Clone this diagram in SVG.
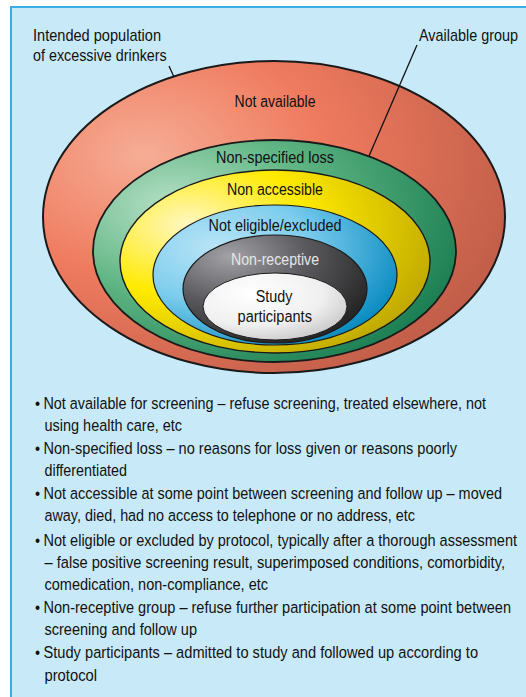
<svg xmlns="http://www.w3.org/2000/svg" width="526" height="697" viewBox="0 0 526 697">
<style>
  .t { font-family: "Liberation Sans", Arial, sans-serif; font-size: 16.5px; fill: #111; }
  .s { font-size: 16px; }
  .c { text-anchor: middle; }
  .ring { stroke: #1a1a1a; }
  .lead { stroke: #111; stroke-width: 1.3; fill: none; }
</style>
<defs>
  <radialGradient id="gRed" cx="0.22" cy="0.3" r="0.85">
    <stop offset="0" stop-color="#f6ad95"/>
    <stop offset="0.45" stop-color="#ef7b5f"/>
    <stop offset="1" stop-color="#c05d48"/>
  </radialGradient>
  <radialGradient id="gGreen" cx="0.22" cy="0.3" r="0.85">
    <stop offset="0" stop-color="#b6e0c6"/>
    <stop offset="0.45" stop-color="#5fb583"/>
    <stop offset="1" stop-color="#1a7e52"/>
  </radialGradient>
  <radialGradient id="gYellow" cx="0.22" cy="0.3" r="0.85">
    <stop offset="0" stop-color="#fff7c2"/>
    <stop offset="0.45" stop-color="#ffea00"/>
    <stop offset="1" stop-color="#bfa800"/>
  </radialGradient>
  <radialGradient id="gBlue" cx="0.25" cy="0.3" r="0.85">
    <stop offset="0" stop-color="#b8e4f6"/>
    <stop offset="0.45" stop-color="#7dcdee"/>
    <stop offset="1" stop-color="#0086bd"/>
  </radialGradient>
  <radialGradient id="gGray" cx="0.25" cy="0.2" r="0.85">
    <stop offset="0" stop-color="#a2a2a6"/>
    <stop offset="0.5" stop-color="#5a5a5e"/>
    <stop offset="1" stop-color="#262626"/>
  </radialGradient>
  <radialGradient id="gWhite" cx="0.35" cy="0.3" r="0.8">
    <stop offset="0" stop-color="#ffffff"/>
    <stop offset="0.6" stop-color="#f0f0f0"/>
    <stop offset="1" stop-color="#c4c4c4"/>
  </radialGradient>
</defs>

<rect x="11" y="7" width="620" height="800" fill="#c8eaf8" stroke="#3aaee4" stroke-width="2"/>

<g id="node-intended">
  <ellipse class="ring" cx="274" cy="217" rx="231" ry="156" fill="url(#gRed)" stroke-width="2"/>
  <text class="t c" transform="scale(0.88 1)" x="312.5" y="107" textLength="92" lengthAdjust="spacingAndGlyphs">Not available</text>
</g>
<g id="node-nonspecified">
  <ellipse class="ring" cx="274.5" cy="251" rx="181.5" ry="111" fill="url(#gGreen)" stroke-width="1.8"/>
  <text class="t c" transform="scale(0.88 1)" x="312.5" y="163" textLength="134" lengthAdjust="spacingAndGlyphs">Non-specified loss</text>
</g>
<g id="node-nonaccessible">
  <ellipse class="ring" cx="275" cy="261.5" rx="155" ry="91.5" fill="url(#gYellow)" stroke-width="1.4"/>
  <text class="t c" transform="scale(0.88 1)" x="312.5" y="195" textLength="109" lengthAdjust="spacingAndGlyphs">Non accessible</text>
</g>
<g id="node-noteligible">
  <ellipse class="ring" cx="275" cy="275" rx="122" ry="70" fill="url(#gBlue)" stroke-width="1.2"/>
  <text class="t c" transform="scale(0.88 1)" x="312.5" y="231" textLength="151" lengthAdjust="spacingAndGlyphs">Not eligible/excluded</text>
</g>
<g id="node-nonreceptive">
  <ellipse class="ring" cx="275" cy="289" rx="92" ry="54" fill="url(#gGray)" stroke-width="1.2"/>
  <text class="t c" transform="scale(0.88 1)" x="312.5" y="265" textLength="100" lengthAdjust="spacingAndGlyphs" style="fill:#e6e6e6">Non-receptive</text>
</g>
<g id="node-participants">
  <ellipse class="ring" cx="275" cy="306.5" rx="72" ry="33.5" fill="url(#gWhite)" stroke-width="1"/>
  <text class="t c" transform="scale(0.88 1)" x="311.4" y="302" textLength="41.7" lengthAdjust="spacingAndGlyphs">Study</text>
  <text class="t c" transform="scale(0.88 1)" x="312.2" y="322" textLength="84.5" lengthAdjust="spacingAndGlyphs">participants</text>
</g>

<g id="labels">
  <text class="t s" transform="scale(0.88 1)" x="37.5" y="41" textLength="145.5" lengthAdjust="spacingAndGlyphs">Intended population</text>
  <text class="t s" transform="scale(0.88 1)" x="37.5" y="61" textLength="152" lengthAdjust="spacingAndGlyphs">of excessive drinkers</text>
  <text class="t s" transform="scale(0.88 1)" x="476.1" y="41" textLength="112.5" lengthAdjust="spacingAndGlyphs">Available group</text>
</g>

<g id="connectors">
  <line class="lead" x1="169" y1="66" x2="174" y2="77"/>
  <line class="lead" x1="417" y1="45" x2="369" y2="156"/>
</g>

<g id="legend" transform="scale(0.88 1)">
  <text class="t" x="39.77" y="409">•</text>
  <text class="t" x="49.43" y="409" textLength="502.8" lengthAdjust="spacingAndGlyphs">Not available for screening – refuse screening, treated elsewhere, not</text>
  <text class="t" x="50.57" y="431.5" textLength="156.3" lengthAdjust="spacingAndGlyphs">using health care, etc</text>
  <text class="t" x="39.77" y="454">•</text>
  <text class="t" x="49.43" y="454" textLength="469.9" lengthAdjust="spacingAndGlyphs">Non-specified loss – no reasons for loss given or reasons poorly</text>
  <text class="t" x="50.57" y="476" textLength="93.75" lengthAdjust="spacingAndGlyphs">differentiated</text>
  <text class="t" x="39.77" y="499.5">•</text>
  <text class="t" x="49.43" y="499.5" textLength="521" lengthAdjust="spacingAndGlyphs">Not accessible at some point between screening and follow up – moved</text>
  <text class="t" x="50.57" y="521.5" textLength="421" lengthAdjust="spacingAndGlyphs">away, died, had no access to telephone or no address, etc</text>
  <text class="t" x="39.77" y="546">•</text>
  <text class="t" x="49.43" y="546" textLength="538.1" lengthAdjust="spacingAndGlyphs">Not eligible or excluded by protocol, typically after a thorough assessment</text>
  <text class="t" x="50.57" y="568" textLength="523.3" lengthAdjust="spacingAndGlyphs">– false positive screening result, superimposed conditions, comorbidity,</text>
  <text class="t" x="50.57" y="590.5" textLength="254" lengthAdjust="spacingAndGlyphs">comedication, non-compliance, etc</text>
  <text class="t" x="39.77" y="613">•</text>
  <text class="t" x="49.43" y="613" textLength="531.3" lengthAdjust="spacingAndGlyphs">Non-receptive group – refuse further participation at some point between</text>
  <text class="t" x="50.57" y="635" textLength="173.3" lengthAdjust="spacingAndGlyphs">screening and follow up</text>
  <text class="t" x="39.77" y="658.5">•</text>
  <text class="t" x="49.43" y="658.5" textLength="493.8" lengthAdjust="spacingAndGlyphs">Study participants – admitted to study and followed up according to</text>
  <text class="t" x="50.57" y="681" textLength="59.7" lengthAdjust="spacingAndGlyphs">protocol</text>
</g>
</svg>
